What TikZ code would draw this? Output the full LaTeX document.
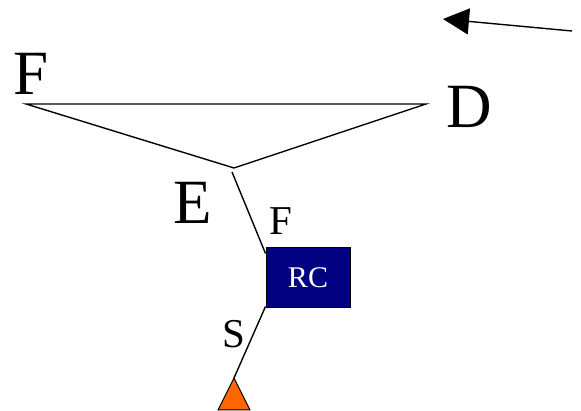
\documentclass[tikz,border=0pt]{standalone}
\usepackage{fontspec}
\setmainfont{Liberation Serif}
\usetikzlibrary{arrows.meta}
\definecolor{rcblue}{RGB}{0,0,128}
\definecolor{sensororange}{RGB}{255,102,0}
\begin{document}
\begin{tikzpicture}
  [x=1pt,y=-1pt,line width=1.4pt,every node/.style={inner sep=0pt},
   biglabel/.style={font=\fontsize{63}{63}\selectfont,anchor=base west},
   smalllabel/.style={font=\fontsize{41}{41}\selectfont,anchor=base west},
   rcbox/.style={draw=black,line width=1pt,fill=rcblue,text=white,
     minimum width=84pt,minimum height=60pt,font=\fontsize{30}{30}\selectfont}]
  \useasboundingbox (0,0) rectangle (581,411);
  \coordinate (f) at (26,104);
  \coordinate (d) at (426,104);
  \coordinate (e) at (234,168);
  \coordinate (stem) at (232,172);
  \coordinate (apex) at (234,378);
  \coordinate (tail) at (572,31);
  \coordinate (tip) at (443,19);

  \node[biglabel] (lf) at (13,95) {F};
  \node[biglabel] (ld) at (446,128) {D};
  \node[biglabel] (le) at (173,224) {E};
  \node[smalllabel] (lsf) at (269,235) {F};
  \node[smalllabel] (ls) at (222,348) {S};
  \node[rcbox] (rc) at (308,278) {RC};

  \draw (f) -- (d) -- (e) -- cycle;
  \draw (stem) -- ([yshift=-6pt]rc.north west);
  \draw ([yshift=2pt]rc.south west) -- (apex);
  \draw[fill=sensororange,line width=1pt] (apex) -- (250,410) -- (218,410) -- cycle;
  \draw[-{Triangle[length=26pt,width=26pt]}] (tail) -- (tip);

\end{tikzpicture}
\end{document}
